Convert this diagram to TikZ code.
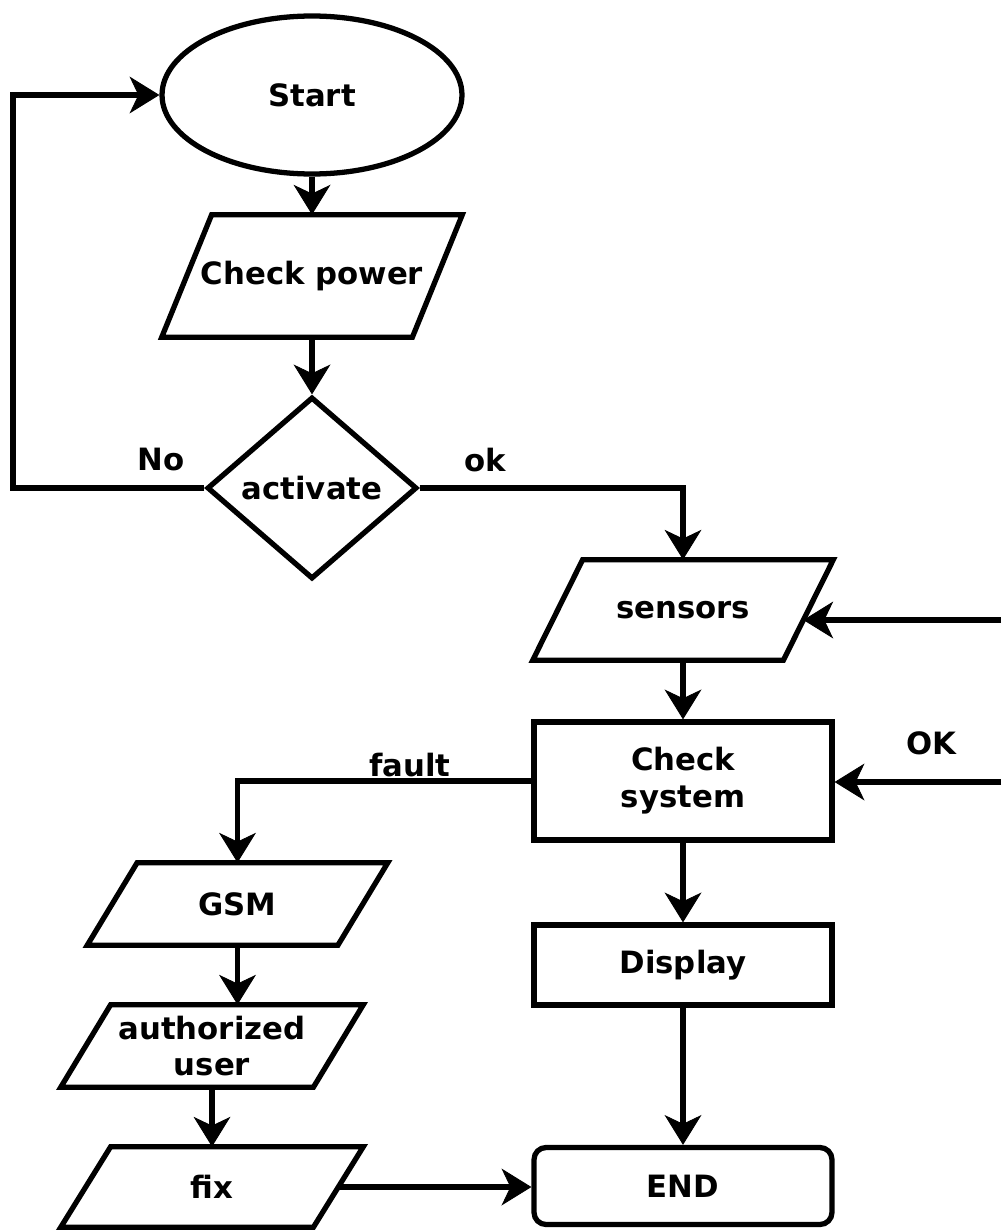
\documentclass[tikz,border=0pt]{standalone}
\usepackage{fontspec}
\setmainfont{DejaVu Sans}
\usetikzlibrary{shapes.geometric,arrows.meta}
\begin{document}
\begin{tikzpicture}[x=0.02cm,y=-0.02cm,
  every node/.style={font=\fontsize{17.5}{21}\selectfont\bfseries},
  lbl/.style={inner sep=0pt},
  ln/.style={line width=3pt,line join=miter},
  arr/.style={ln,-{Stealth[length=17pt,width=21pt,inset=5pt,line width=0.5pt]}},
  box/.style={draw,line width=3pt,rectangle,inner sep=0pt,minimum width=5.96cm,align=center},
  iobox/.style={inner sep=0pt,minimum width=5cm,align=center},
]
\useasboundingbox (0,0) rectangle (1001,1230);

% nodes
\node[draw,line width=3pt,ellipse,minimum width=6cm,minimum height=3.16cm,inner sep=0pt] (start) at (312,95) {Start};
\node[iobox,minimum height=2.44cm] (cp) at (312,276) {Check power};
\node[draw,line width=3pt,diamond,minimum width=4.2cm,minimum height=3.64cm,inner sep=0pt] (act) at (312,488) {activate};
\node[iobox,minimum height=2cm] (sens) at (683,610) {sensors};
\node[box,minimum height=2.36cm] (cs) at (683,781) {Check\\system};
\node[iobox,minimum height=1.64cm] (gsm) at (237.5,904) {GSM};
\node[iobox,minimum width=5.04cm,minimum height=1.64cm] (auth) at (212,1046) {authorized\\user};
\node[iobox,minimum width=5.04cm,minimum height=1.6cm] (fix) at (212,1187) {fix};
\node[box,minimum height=1.6cm] (disp) at (683,965) {Display};
\node[box,minimum height=1.54cm,rounded corners=0.24cm] (endn) at (683,1186) {END};

% parallelogram outlines
\foreach \n in {cp,sens,gsm,auth,fix}{
  \draw[ln] ([xshift=-0.5cm]\n.south west) -- ([xshift=-0.5cm]\n.south east)
     -- ([xshift=0.5cm]\n.north east) -- ([xshift=0.5cm]\n.north west) -- cycle;
}

% helper coordinates
\coordinate (lc) at (13,488);
\coordinate (rs) at (1001,620);
\coordinate (rok) at (1001,782);

% connectors
\draw[arr] (start.south) -- (cp.north);
\draw[arr] (cp.south) -- (act.north);
\draw[arr] (act.west) -- (lc) |- (start.west);
\draw[arr] (act.east) -| (sens.north);
\draw[arr] (rs) -- ([shift={(-5,10)}]sens.east);
\draw[arr] (sens.south) -- (cs.north);
\draw[arr] (rok) -- (rok -| cs.east);
\draw[arr] (cs.west) -| (gsm.north);
\draw[arr] (gsm.south) -- (gsm.south |- auth.north);
\draw[arr] (auth.south) -- (fix.north);
\draw[arr] (cs.south) -- (disp.north);
\draw[arr] (disp.south) -- (endn.north);
\draw[arr] (fix.east) -- (fix.east -| endn.west);

% labels
\node[lbl] (lno) at (161,460) {No};
\node[lbl] (lok) at (485,460) {ok};
\node[lbl] (lfault) at (410,765) {fault};
\node[lbl] (lOK) at (931,743) {OK};
\end{tikzpicture}
\end{document}
